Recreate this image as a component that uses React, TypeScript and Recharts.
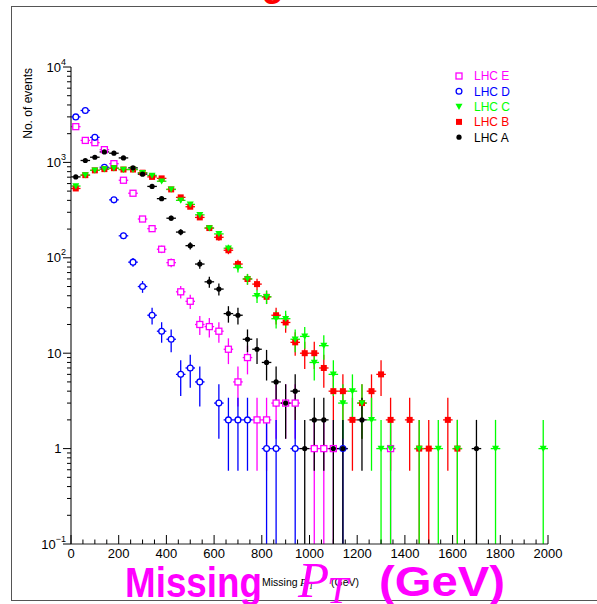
import React from 'react';
import { ScatterChart, Scatter, XAxis, YAxis, ErrorBar } from 'recharts';

// ---------------- data (bin centres in GeV, counts) ----------------
const xE = [20, 60, 100, 140, 180, 220, 260, 300, 340, 380, 420, 460, 500, 540, 580, 620, 660, 700, 740, 780, 820, 860, 900, 940, 1020, 1060, 1100, 1340];
const yE = [2370, 1700, 1610, 1360, 970, 650, 475, 255, 202, 123, 89, 44, 35, 20, 19, 17, 11, 5, 9, 2, 2, 3, 3, 3, 1, 1, 1, 1];

const xD = [20, 60, 100, 140, 180, 220, 260, 300, 340, 380, 420, 460, 500, 540, 620, 660, 700, 740, 820, 860, 940, 1140];
const yD = [3000, 3500, 1830, 890, 405, 170, 90, 50, 25, 17, 14, 6, 7, 5, 3, 2, 2, 2, 1, 1, 1, 1];

const xC = [20, 60, 100, 140, 180, 220, 260, 300, 340, 380, 420, 460, 500, 540, 580, 620, 660, 700, 740, 780, 820, 860, 900, 940, 980, 1020, 1060, 1100, 1140, 1180, 1220, 1260, 1300, 1340, 1460, 1540, 1620, 1780, 1980];
const yC = [565, 735, 825, 850, 870, 842, 842, 776, 730, 635, 521, 400, 363, 282, 205, 178, 126, 79, 60, 40, 39, 23, 23, 14, 15, 8, 12, 6, 3, 4, 3, 2, 1, 1, 1, 1, 1, 1, 1];

const xB = [20, 60, 100, 140, 180, 220, 260, 300, 340, 380, 420, 460, 500, 540, 580, 620, 660, 700, 740, 780, 820, 860, 900, 940, 980, 1020, 1060, 1100, 1140, 1180, 1220, 1260, 1300, 1340, 1420, 1460, 1500, 1580, 1620];
const yB = [533, 735, 825, 850, 870, 842, 842, 780, 705, 680, 521, 430, 343, 265, 205, 164, 120, 86, 60, 53, 39, 25, 21, 13, 10, 10, 7, 4, 4, 2, 3, 4, 6, 2, 2, 1, 1, 2, 1];

const xA = [20, 60, 100, 140, 180, 220, 260, 300, 340, 380, 420, 460, 500, 540, 580, 620, 660, 700, 740, 780, 820, 860, 900, 940, 980, 1020, 1060, 1100, 1140, 1220, 1700];
const yA = [705, 1047, 1133, 1288, 1248, 1114, 877, 753, 560, 417, 260, 186, 134, 86, 56, 47, 26, 25, 14, 11, 8, 5, 3, 4, 1, 2, 2, 1, 1, 2, 1];

const seriesNames = ['LHC E', 'LHC D', 'LHC C', 'LHC B', 'LHC A'];
const xTicks = Array.from({ length: 41 }, (_, i) => i * 50);
const yTicks: number[] = [];
for (let e = -1; e < 4; e++) for (let m = 1; m <= 9; m++) yTicks.push(m * Math.pow(10, e));
yTicks.push(10000);

const BIN_HALF = 20;
const Y_MIN = 0.1;

const build = (xs: number[], ys: number[]) =>
  xs.map((x, i) => {
    const v = ys[i];
    const s = Math.sqrt(v);
    return { x, y: v, ex: BIN_HALF, ey: [Math.min(s, v - Y_MIN), s] };
  });

const dataE = build(xE, yE);
const dataD = build(xD, yD);
const dataC = build(xC, yC);
const dataB = build(xB, yB);
const dataA = build(xA, yA);

const MAG = '#ff00ff';
const BLUE = '#0000ff';
const GREEN = '#00ff00';
const RED = '#ff0000';
const BLACK = '#000000';
const FONT = '"Liberation Sans", Arial, Helvetica, sans-serif';
const SERIF = '"Liberation Serif", "Times New Roman", serif';

// ---------------- markers ----------------
const OpenSquare = (p: any) => (
  <rect x={p.cx - 3} y={p.cy - 3} width={6} height={6} fill="#fff" stroke={MAG} strokeWidth={1.3} />
);
const OpenCircle = (p: any) => <circle cx={p.cx} cy={p.cy} r={2.9} fill="#fff" stroke={BLUE} strokeWidth={1.3} />;
const TriDown = (p: any) => (
  <polygon points={`${p.cx - 3.5},${p.cy - 2.8} ${p.cx + 3.5},${p.cy - 2.8} ${p.cx},${p.cy + 3.4}`} fill={GREEN} />
);
const FillSquare = (p: any) => <rect x={p.cx - 3} y={p.cy - 3} width={6} height={6} fill={RED} />;
const FillCircle = (p: any) => <circle cx={p.cx} cy={p.cy} r={2.6} fill={BLACK} />;

const legendItems = [
  { name: seriesNames[0], color: MAG, Shape: OpenSquare },
  { name: seriesNames[1], color: BLUE, Shape: OpenCircle },
  { name: seriesNames[2], color: GREEN, Shape: TriDown },
  { name: seriesNames[3], color: RED, Shape: FillSquare },
  { name: seriesNames[4], color: BLACK, Shape: FillCircle },
];

// ---------------- ticks ----------------
const YTick = (props: any) => {
  const { x, y, payload } = props;
  const v = payload.value as number;
  const lg = Math.log10(v);
  const e = Math.round(lg);
  const major = Math.abs(lg - e) < 1e-6;
  const len = major ? 8 : 4;
  let label: React.ReactNode = null;
  if (major) {
    if (e === 0 || e === 1) {
      label = (
        <text x={x - 9.5} y={y + 4.6} textAnchor="end" fontSize={13} fontFamily={FONT} fill="#000">
          {e === 0 ? '1' : '10'}
        </text>
      );
    } else {
      label = (
        <text x={x - 5} y={y + 4.6} textAnchor="end" fontSize={13} fontFamily={FONT} fill="#000">
          10
          <tspan dy={-7} fontSize={9}>
            {e < 0 ? '\u2212' + String(-e) : String(e)}
          </tspan>
        </text>
      );
    }
  }
  return (
    <g>
      <line x1={x} x2={x - len} y1={y} y2={y} stroke="#000" strokeWidth={1} />
      {label}
    </g>
  );
};

const XTick = (props: any) => {
  const { x, y, payload } = props;
  const v = payload.value as number;
  const major = v % 200 === 0;
  const len = major ? 9 : 4.5;
  return (
    <g>
      <line x1={x} x2={x} y1={y} y2={y - len} stroke="#000" strokeWidth={1} />
      {major && (
        <text x={x} y={y + 14} textAnchor="middle" fontSize={13} fontFamily={FONT} fill="#000">
          {v}
        </text>
      )}
    </g>
  );
};

const eb = (color: string) => [
  <ErrorBar key="y" dataKey="ey" direction="y" width={0} stroke={color} strokeWidth={1.3} isAnimationActive={false} />,
  <ErrorBar key="x" dataKey="ex" direction="x" width={0} stroke={color} strokeWidth={1.3} isAnimationActive={false} />,
];

export default function App() {
  return (
    <div style={{ position: 'absolute', left: 0, top: 0, width: 597, height: 604, background: '#fff', overflow: 'hidden' }}>
      <div
        style={{
          position: 'absolute',
          left: 11,
          top: 6,
          width: 620,
          height: 595,
          borderLeft: '1.5px solid #555',
          borderTop: '1.5px solid #555',
          borderBottom: '1.5px solid #555',
          boxSizing: 'border-box',
        }}
      />
      <div style={{ position: 'absolute', left: 0, top: 0 }}>
        <ScatterChart width={597} height={604} margin={{ top: 67, right: 49, bottom: 30, left: 11 }}>
          <XAxis
            xAxisId="top"
            orientation="top"
            type="number"
            domain={[0, 1]}
            height={0}
            tick={false}
            tickLine={false}
            axisLine={{ stroke: '#666', strokeWidth: 1.8 }}
          />
          <YAxis
            yAxisId="right"
            orientation="right"
            type="number"
            domain={[0, 1]}
            width={0}
            tick={false}
            tickLine={false}
            axisLine={{ stroke: '#555', strokeWidth: 1.5 }}
          />
          <XAxis
            type="number"
            dataKey="x"
            domain={[0, 2000]}
            allowDataOverflow
            ticks={xTicks}
            interval={0}
            tick={<XTick />}
            tickLine={false}
            tickSize={0}
            tickMargin={0}
            height={30}
            axisLine={{ stroke: '#222', strokeWidth: 1.2 }}
          />
          <YAxis
            type="number"
            dataKey="y"
            scale="log"
            domain={[0.1, 10000]}
            allowDataOverflow
            ticks={yTicks}
            interval={0}
            tick={<YTick />}
            tickLine={false}
            tickSize={0}
            tickMargin={0}
            width={60}
            axisLine={{ stroke: '#222', strokeWidth: 1.2 }}
          />
          <Scatter name={seriesNames[0]} data={dataE} fill={MAG} shape={<OpenSquare />} isAnimationActive={false}>
            {eb(MAG)}
          </Scatter>
          <Scatter name={seriesNames[1]} data={dataD} fill={BLUE} shape={<OpenCircle />} isAnimationActive={false}>
            {eb(BLUE)}
          </Scatter>
          <Scatter name={seriesNames[3]} data={dataB} fill={RED} shape={<FillSquare />} isAnimationActive={false}>
            {eb(RED)}
          </Scatter>
          <Scatter name={seriesNames[2]} data={dataC} fill={GREEN} shape={<TriDown />} isAnimationActive={false}>
            {eb(GREEN)}
          </Scatter>
          <Scatter name={seriesNames[4]} data={dataA} fill={BLACK} shape={<FillCircle />} isAnimationActive={false}>
            {eb(BLACK)}
          </Scatter>
        </ScatterChart>
      </div>
      <svg width={597} height={604} style={{ position: 'absolute', left: 0, top: 0, pointerEvents: 'none' }}>
        {/* legend */}
        {legendItems.map((it, i) => {
          const cy = 76 + i * 15.3;
          return (
            <g key={it.name}>
              <it.Shape cx={459} cy={cy} />
              <text x={474} y={cy + 4.3} fontSize={12} fontFamily={FONT} fill={it.color}>
                {it.name}
              </text>
            </g>
          );
        })}
        {/* clipped red title above the canvas */}
        <text x={147} y={-5} fontSize={42} fontWeight="bold" fontFamily={FONT} fill={RED} textLength={137} lengthAdjust="spacingAndGlyphs">
          Missing
        </text>
        {/* y axis title */}
        <text transform="translate(31.5, 68) rotate(-90)" textAnchor="end" fontSize={12} fontFamily={FONT} fill="#000">
          No. of events
        </text>
        {/* small x axis title */}
        <text x={262} y={586} fontSize={10.5} fontFamily={FONT} fill="#000">Missing</text>
        <text x={300} y={586} fontSize={11} fontStyle="italic" fontFamily={SERIF} fill="#000">P</text>
        <text x={309} y={589} fontSize={7.5} fontStyle="italic" fontFamily={SERIF} fill="#000">T</text>
        <text x={331} y={586} fontSize={10.5} fontFamily={FONT} fill="#000">(GeV)</text>
        {/* big magenta title */}
        <text x={125} y={597} fontSize={42} fontWeight="bold" fontFamily={FONT} fill={MAG} textLength={137} lengthAdjust="spacingAndGlyphs">
          Missing
        </text>
        <text x={298} y={597} fontSize={51} fontStyle="italic" fontFamily={SERIF} fill={MAG}>P</text>
        <text x={327} y={603} fontSize={38} fontStyle="italic" fontFamily={SERIF} fill={MAG}>T</text>
        <text x={379} y={596} fontSize={42} fontWeight="bold" fontFamily={FONT} fill={MAG} textLength={126} lengthAdjust="spacingAndGlyphs">
          (GeV)
        </text>
      </svg>
    </div>
  );
}
